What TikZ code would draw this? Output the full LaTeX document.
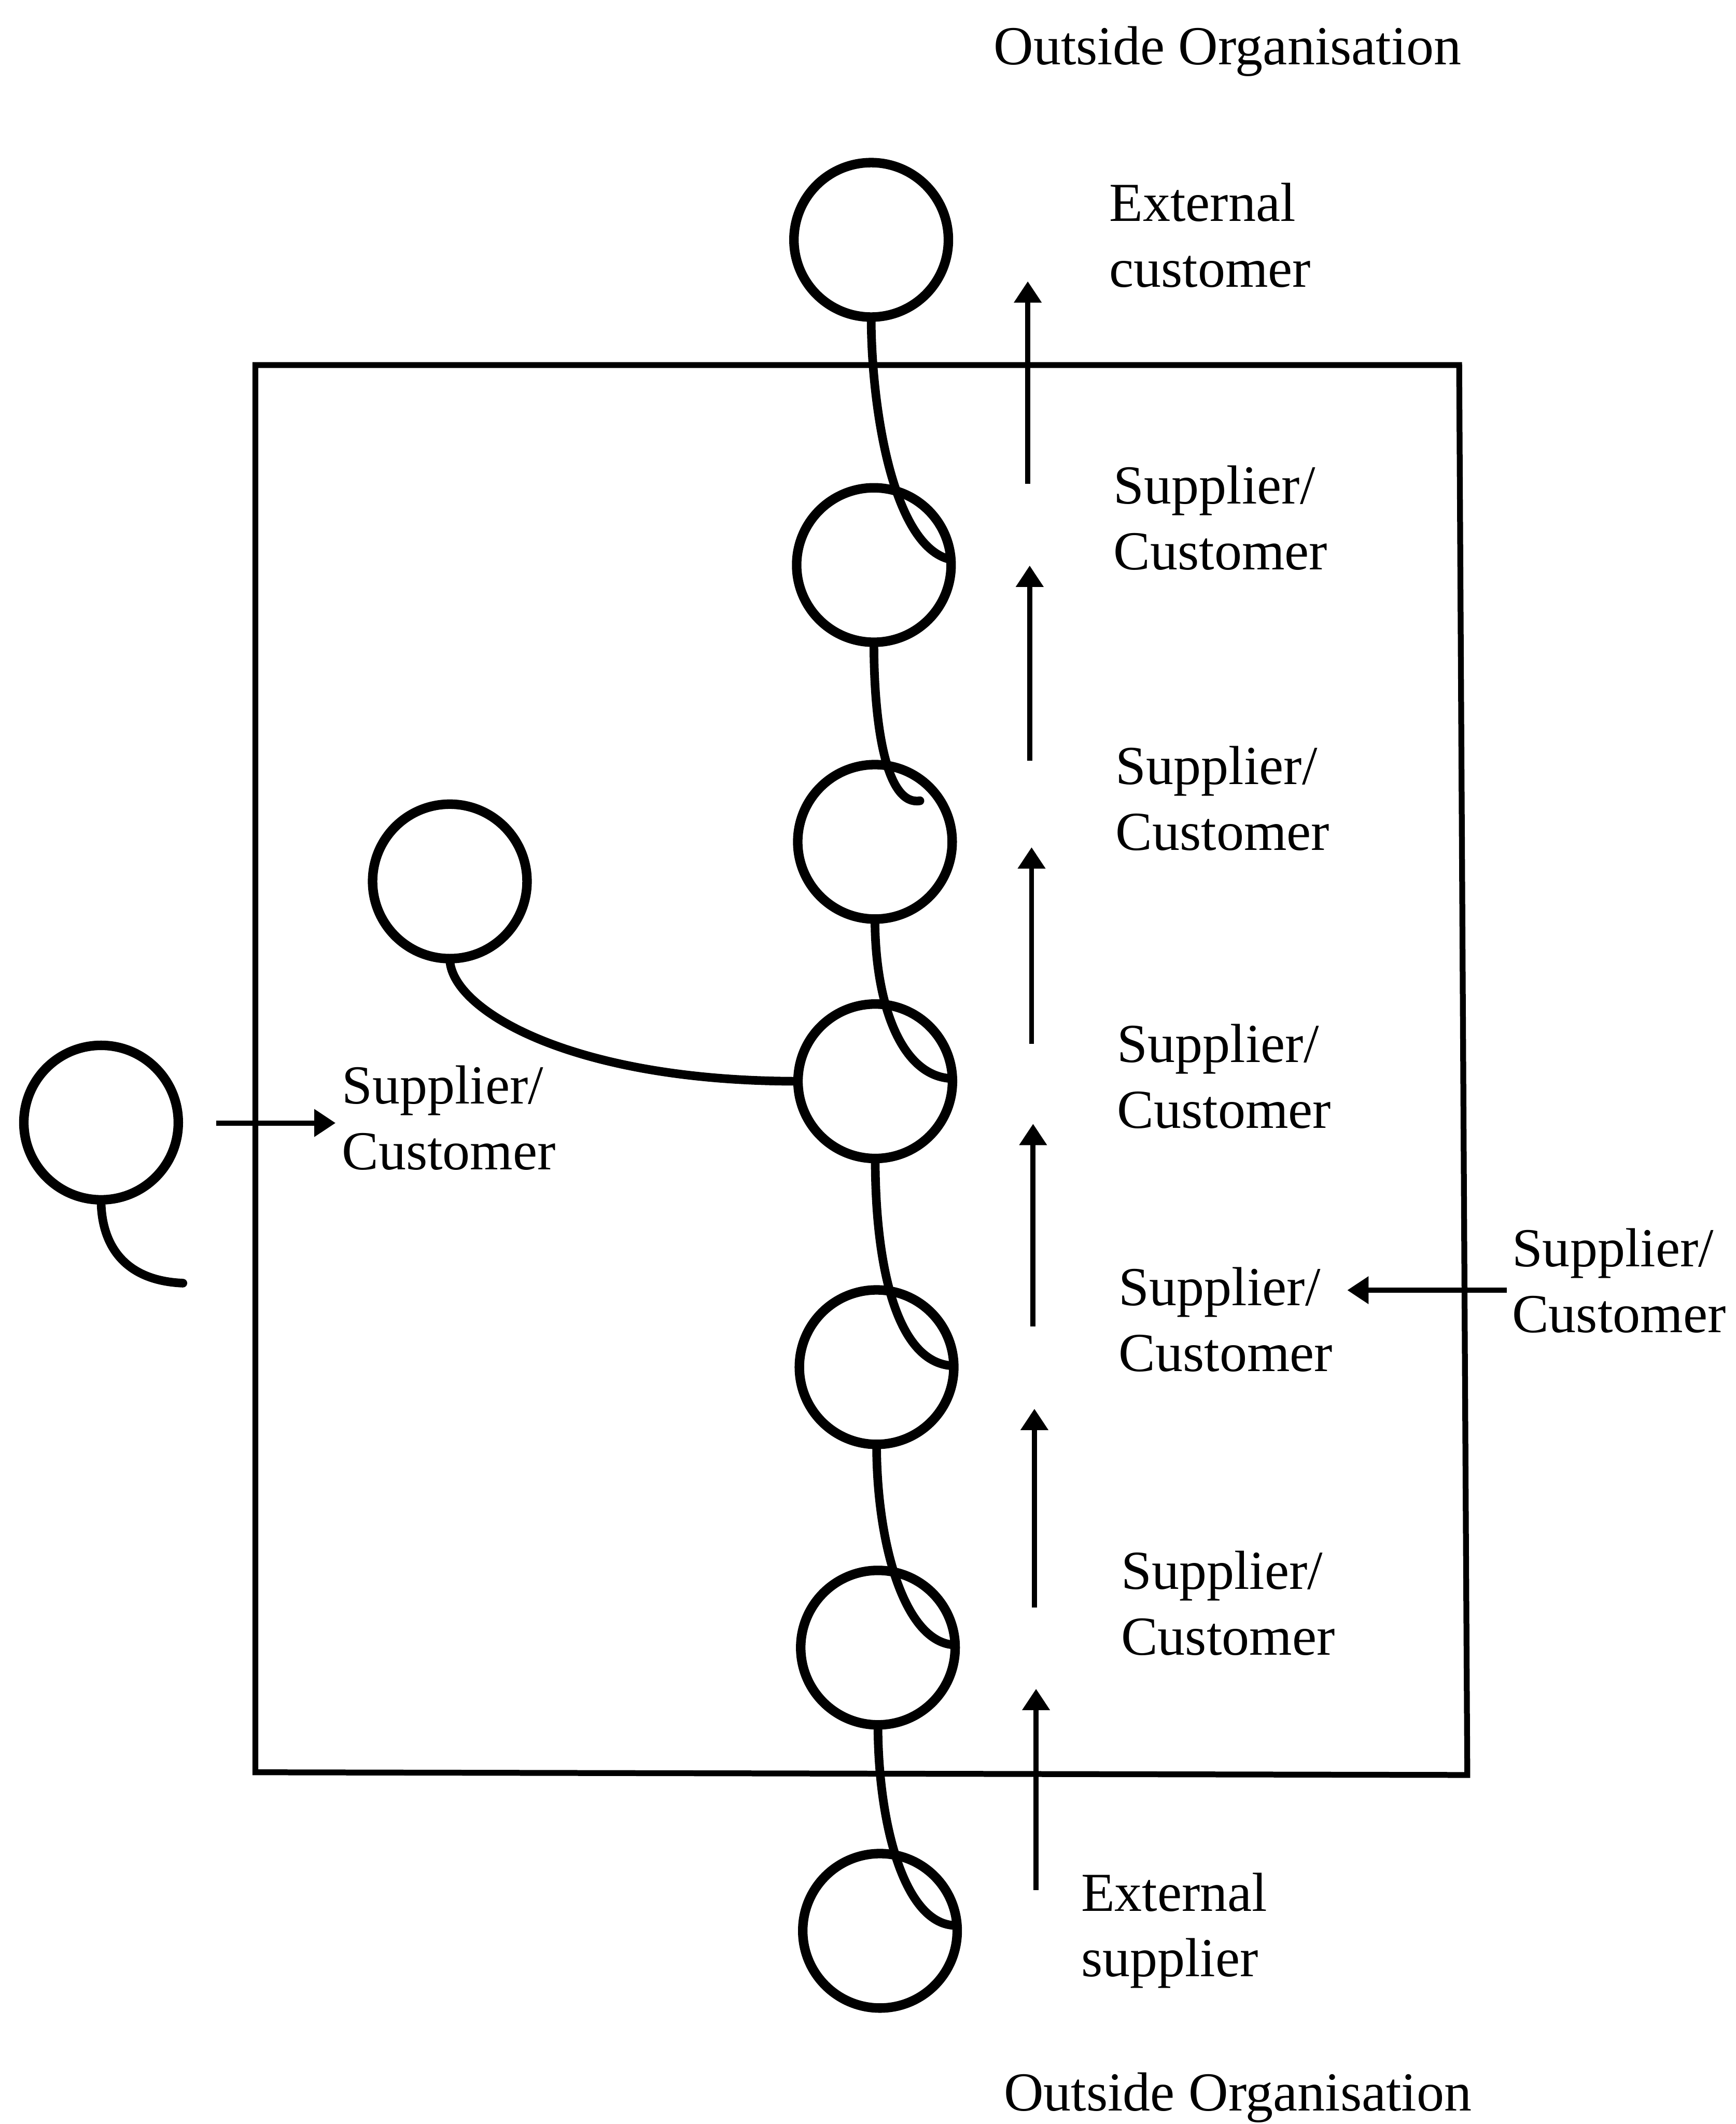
\documentclass[tikz,border=0pt]{standalone}
\usepackage{fontspec}
\setmainfont{Liberation Serif}
\usetikzlibrary{arrows.meta}
\newcommand\twoline[2]{\vtop{\hbox{#1}\hbox{#2}}}
\begin{document}
\begin{tikzpicture}[x=0.028579cm, y=-0.028579cm,
  unit/.style={circle, draw, line width=5.7pt, minimum size=3.258cm, inner sep=0pt, outer sep=0pt},
  link/.style={line width=5.2pt, line cap=round},
  flow/.style={line width=3.1pt, -{Triangle[length=0.45cm,width=0.56cm]}},
  frame/.style={line width=3.5pt, line join=miter},
  lbl/.style={anchor=base west, inner sep=0pt, outer sep=0pt, font=\fontsize{33}{39.4}\selectfont}]
\fill[white] (0,0) rectangle (1281,1567.6);
\useasboundingbox (0,0) rectangle (1281,1567.6);

% organisation boundary
\draw[frame] (188.5,269.4) -- (1077,269.4) -- (1083,1310) -- (188.5,1308) -- cycle;

% units
\node[unit] (c1) at (643,177) {};
\node[unit] (c2) at (645,417) {};
\node[unit] (c3) at (645.8,621.3) {};
\node[unit] (c4) at (646,798) {};
\node[unit] (c5) at (647,1009) {};
\node[unit] (c6) at (648,1216) {};
\node[unit] (c7) at (649.5,1425) {};
\node[unit] (s) at (332,650.5) {};
\node[unit] (L) at (74.6,828.5) {};

\coordinate (h23) at (679,591);
\coordinate (Lend) at (135,947);

% chain links
\draw[link] (c1.south) .. controls +(0,66) and +(-43,-9) .. (c2.4);
\draw[link] (c2.south) .. controls +(0,65) and +(-24,4) .. (h23);
\draw[link] (c3.south) .. controls +(0,62) and +(-38,-1) .. (c4.2);
\draw[link] (c4.south) .. controls +(0,80) and +(-42,-1) .. (c5.1);
\draw[link] (c5.south) .. controls +(0,74) and +(-37,-1) .. (c6.2);
\draw[link] (c6.south) .. controls +(0,72) and +(-39,1) .. (c7.4);
\draw[link] (s.south) .. controls +(0,37) and +(-169,0) .. (c4.west);
\draw[link] (L.south) .. controls +(0,29) and +(-47,-2) .. (Lend);

% flow arrows
\coordinate (a1s) at (758.6,357);   \coordinate (a1e) at (758.6,207.6);
\coordinate (a2s) at (760,561.6);   \coordinate (a2e) at (760,417.4);
\coordinate (a3s) at (761.4,770.3); \coordinate (a3e) at (761.4,625.3);
\coordinate (a4s) at (762.5,978.8); \coordinate (a4e) at (762.5,829.4);
\coordinate (a5s) at (763.5,1186.5);\coordinate (a5e) at (763.5,1039.7);
\coordinate (a6s) at (764.7,1395);  \coordinate (a6e) at (764.7,1246.4);
\coordinate (als) at (159.6,828.8); \coordinate (ale) at (247.7,828.8);
\coordinate (ars) at (1112,952.2);  \coordinate (are) at (994.4,952.2);
\foreach \i in {1,...,6} {\draw[flow] (a\i s) -- (a\i e);}
\draw[flow] (als) -- (ale);
\draw[flow] (ars) -- (are);

% labels
\node[lbl] (ttop) at (733.5,47.6) {Outside Organisation};
\node[lbl] (tbot) at (741,1558) {Outside Organisation};
\node[lbl] (t1) at (818.8,163.2) {\twoline{External}{customer}};
\node[lbl] (t2) at (822,371.8) {\twoline{Supplier/}{Customer}};
\node[lbl] (t3) at (823.5,579) {\twoline{Supplier/}{Customer}};
\node[lbl] (t4) at (824.7,784) {\twoline{Supplier/}{Customer}};
\node[lbl] (t5) at (825.8,963.5) {\twoline{Supplier/}{Customer}};
\node[lbl] (t6) at (827.5,1172.8) {\twoline{Supplier/}{Customer}};
\node[lbl] (t7) at (798,1410.3) {\twoline{External}{supplier}};
\node[lbl] (tl) at (252.4,814.6) {\twoline{Supplier/}{Customer}};
\node[lbl] (tr) at (1116,934.8) {\twoline{Supplier/}{Customer}};
\end{tikzpicture}
\end{document}
